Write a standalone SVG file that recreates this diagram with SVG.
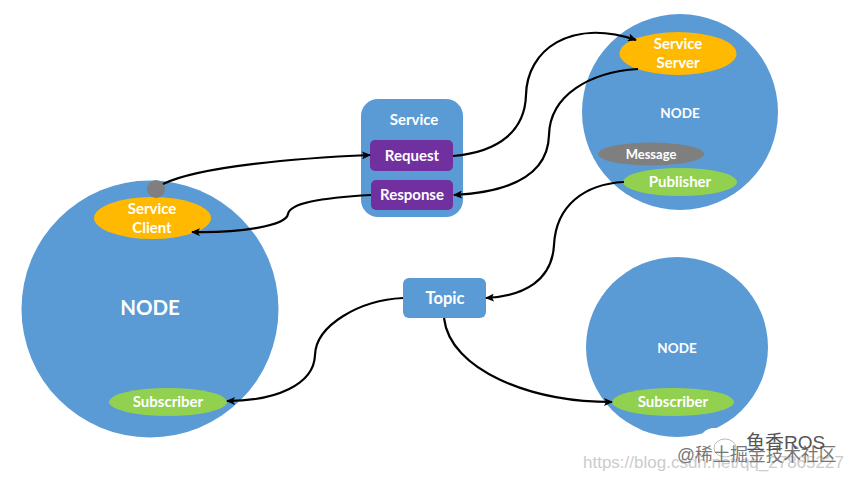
<svg xmlns="http://www.w3.org/2000/svg" width="854" height="480" viewBox="0 0 854 480">
<defs>
<marker id="arrow" markerWidth="9" markerHeight="8" refX="8" refY="4" orient="auto" markerUnits="userSpaceOnUse"><path d="M0,0 L9,4 L0,8 L2,4 Z" fill="#000"/></marker>
</defs>
<style>
text{font-family:Lato,"Open Sans","Liberation Sans",sans-serif;font-weight:700;text-anchor:middle;fill:#fff}
.blue{fill:#5b9bd5}
.y{fill:#ffb900}
.g{fill:#92d050}
.p{fill:#7030a0}
.c{fill:none;stroke:#000;stroke-width:2.2;marker-end:url(#arrow)}
.s{font-size:15px}
.wm{font-family:"Liberation Sans","Noto Sans CJK SC",sans-serif;font-weight:400;text-anchor:start}
</style>
<rect width="854" height="480" fill="#fff"/>
<g id="node-left"><circle class="blue" cx="150" cy="309" r="128.5"/><text x="150" y="315" font-size="20.500">NODE</text></g>
<g id="node-top"><circle class="blue" cx="680" cy="112" r="98"/><text x="680" y="117.500" font-size="13.500">NODE</text></g>
<g id="node-bottom"><ellipse class="blue" cx="677" cy="347" rx="91" ry="90"/><text x="677" y="352.500" font-size="13.500">NODE</text></g>
<g id="service"><rect class="blue" x="361" y="99" width="102" height="118" rx="17"/><text x="414" y="124.500" class="s">Service</text></g>
<g id="request"><rect class="p" x="370" y="140" width="83" height="31" rx="5"/><text x="412" y="161" class="s">Request</text></g>
<g id="response"><rect class="p" x="371" y="180" width="82" height="30" rx="5"/><text x="412" y="200" class="s">Response</text></g>
<g id="topic"><rect class="blue" x="403" y="278" width="83" height="40" rx="6"/><text x="445" y="303.500" font-size="16.500">Topic</text></g>
<g id="service-client"><ellipse class="y" cx="152.500" cy="218" rx="58.500" ry="21"/><text x="152" y="213.500" class="s">Service</text><text x="152" y="232.500" class="s">Client</text></g>
<g id="client-dot"><circle cx="156" cy="189" r="9" fill="#7f7f7f"/></g>
<g id="service-server"><ellipse class="y" cx="678" cy="53.500" rx="58.500" ry="21.500"/><text x="678" y="48.500" class="s">Service</text><text x="678" y="67.500" class="s">Server</text></g>
<g id="message"><ellipse cx="651" cy="154" rx="53" ry="11.500" fill="#7f7f7f"/><text x="651" y="159" font-size="13">Message</text></g>
<g id="publisher"><ellipse class="g" cx="680" cy="182" rx="57" ry="14"/><text x="680" y="187" class="s">Publisher</text></g>
<g id="subscriber-left"><ellipse class="g" cx="168" cy="402" rx="59" ry="14"/><text x="168" y="407" class="s">Subscriber</text></g>
<g id="subscriber-right"><ellipse class="g" cx="673" cy="402" rx="61" ry="14"/><text x="673" y="407" class="s">Subscriber</text></g>
<g id="connectors">
<path class="c" d="M163,184 C200,166 300,158 370,155"/>
<path class="c" d="M453,156 C500,152 525,130 526,95 C527,50 570,18 636,40"/>
<path class="c" d="M638,69 C590,72 550,95 549,135 C548,175 510,192 454,195"/>
<path class="c" d="M371,195 C320,198 290,203 288,214 C286,226 240,233 192,232"/>
<path class="c" d="M624,182 C585,184 556,205 554,245 C552,280 525,296 486,298"/>
<path class="c" d="M403,298 C360,300 316,325 315,355 C314,385 275,401 227,401"/>
<path class="c" d="M444,318 C450,370 530,402 612,402"/>
</g>
<g id="watermark">
<ellipse cx="714" cy="441" rx="14" ry="13" fill="#fff"/>
<ellipse cx="725" cy="448" rx="11" ry="9" fill="#fff" stroke="#aaa" stroke-width="0.800"/>
<text class="wm" x="583" y="468" font-size="17" style="fill:#ccc">https://blog.csdn.net/qq_27865227</text>
<text class="wm" x="677" y="461" font-size="17.700" style="fill:#777">@稀土掘金技术社区</text>
<text class="wm" x="746" y="449" font-size="19" style="fill:#555">鱼香ROS</text>
</g>
</svg>
